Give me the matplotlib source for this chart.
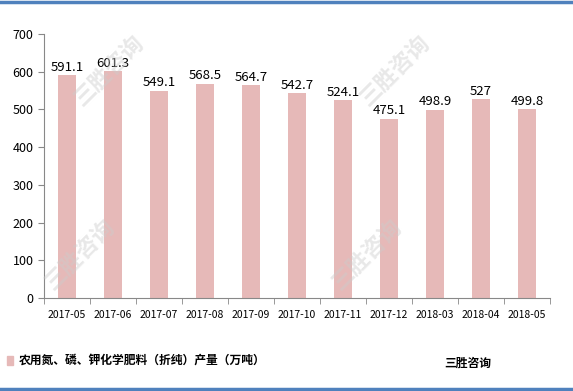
import matplotlib.pyplot as plt
import numpy as np

plt.rcParams['font.family'] = ['Noto Sans CJK SC', 'DejaVu Sans']

months = ['2017-05', '2017-06', '2017-07', '2017-08', '2017-09', '2017-10',
          '2017-11', '2017-12', '2018-03', '2018-04', '2018-05']
output = [591.1, 601.3, 549.1, 568.5, 564.7, 542.7, 524.1, 475.1, 498.9, 527, 499.8]
labels = ['591.1', '601.3', '549.1', '568.5', '564.7', '542.7', '524.1',
          '475.1', '498.9', '527', '499.8']
series_name = '农用氮、磷、钾化学肥料（折纯）产量（万吨）'

fig = plt.figure(figsize=(5.73, 3.91), dpi=100)
ax = fig.add_axes([0.077, 0.238, 0.883, 0.675])

x = np.arange(len(months))
ax.bar(x, output, width=0.4, color='#e6b9b8', zorder=2)

for xi, v, s in zip(x, output, labels):
    ax.text(xi, v + 4, s, ha='center', va='bottom', fontsize=9.5, color='black', zorder=3)

ax.set_xlim(-0.5, len(months) - 0.5)
ax.set_ylim(0, 700)
ax.set_yticks(range(0, 701, 100))
ax.set_xticks(x)
ax.set_xticklabels(months, fontsize=7.5)
ax.set_xticks(np.arange(-0.5, len(months), 1), minor=True)
ax.tick_params(axis='x', which='major', length=0, pad=9)
ax.tick_params(axis='x', which='minor', length=4, color='#888888')
ax.tick_params(axis='y', labelsize=9, length=4, color='#888888')
for side in ['top', 'right']:
    ax.spines[side].set_visible(False)
for side in ['left', 'bottom']:
    ax.spines[side].set_color('#888888')

# watermark
for wx, wy in [(0.19, 0.82), (0.69, 0.82), (0.14, 0.35), (0.64, 0.35)]:
    fig.text(wx, wy, '三胜咨询', fontsize=16, color='#cccccc', alpha=0.45,
             rotation=45, ha='center', va='center', fontweight='bold', zorder=0)

# legend
fig.patches.append(plt.Rectangle((0.012, 0.067), 0.011, 0.022, transform=fig.transFigure,
                                 color='#e6b9b8', figure=fig))
fig.text(0.032, 0.078, series_name, fontsize=8.5, fontweight='bold', va='center')
fig.text(0.775, 0.072, '三胜咨询', fontsize=8.5, fontweight='bold', va='center')

# blue frame lines
fig.add_artist(plt.Line2D([0, 1], [0.994, 0.994], color='#4f81bd', lw=2.5, transform=fig.transFigure))
fig.add_artist(plt.Line2D([0, 1], [0.006, 0.006], color='#4f81bd', lw=2.5, transform=fig.transFigure))

fig.savefig('out.png', dpi=100)
